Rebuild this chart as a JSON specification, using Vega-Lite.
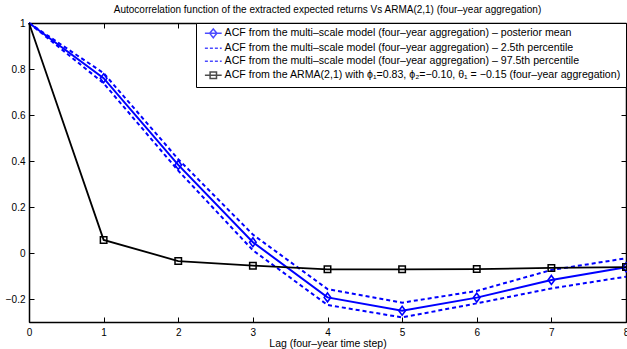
{
  "$schema": "https://vega.github.io/schema/vega-lite/v6.json",
  "width": 597,
  "height": 299,
  "autosize": {"type": "none"},
  "padding": {"left": 29, "top": 23, "right": 1, "bottom": 27},
  "background": "white",
  "config": {
    "font": "Liberation Sans",
    "view": {"stroke": "black", "strokeWidth": 1},
    "axis": {
      "grid": false,
      "domainColor": "black",
      "domainWidth": 1.5,
      "tickColor": "black",
      "tickWidth": 1,
      "tickSize": -5,
      "labelFont": "Liberation Sans",
      "labelFontSize": 10,
      "labelColor": "black",
      "titleFont": "Liberation Sans",
      "titleFontSize": 10.5,
      "titleFontWeight": "normal",
      "titleColor": "black"
    },
    "title": {"font": "Liberation Sans", "fontSize": 10, "fontWeight": "normal", "color": "black"}
  },
  "title": {"text": "Autocorrelation function of the extracted expected returns Vs ARMA(2,1) (four\u2013year aggregation)", "offset": 3, "anchor": "middle"},
  "data": {
    "values": [
      {"lag": 0, "series": "mean", "value": 1},
      {"lag": 1, "series": "mean", "value": 0.76},
      {"lag": 2, "series": "mean", "value": 0.383},
      {"lag": 3, "series": "mean", "value": 0.047},
      {"lag": 4, "series": "mean", "value": -0.193},
      {"lag": 5, "series": "mean", "value": -0.251},
      {"lag": 6, "series": "mean", "value": -0.194},
      {"lag": 7, "series": "mean", "value": -0.117},
      {"lag": 8, "series": "mean", "value": -0.062},
      {"lag": 0, "series": "p025", "value": 1},
      {"lag": 1, "series": "p025", "value": 0.738},
      {"lag": 2, "series": "p025", "value": 0.358},
      {"lag": 3, "series": "p025", "value": 0.012},
      {"lag": 4, "series": "p025", "value": -0.226},
      {"lag": 5, "series": "p025", "value": -0.28},
      {"lag": 6, "series": "p025", "value": -0.219},
      {"lag": 7, "series": "p025", "value": -0.154},
      {"lag": 8, "series": "p025", "value": -0.103},
      {"lag": 0, "series": "p975", "value": 1},
      {"lag": 1, "series": "p975", "value": 0.782},
      {"lag": 2, "series": "p975", "value": 0.408},
      {"lag": 3, "series": "p975", "value": 0.08},
      {"lag": 4, "series": "p975", "value": -0.157},
      {"lag": 5, "series": "p975", "value": -0.216},
      {"lag": 6, "series": "p975", "value": -0.165},
      {"lag": 7, "series": "p975", "value": -0.074},
      {"lag": 8, "series": "p975", "value": -0.023},
      {"lag": 0, "series": "arma", "value": 1},
      {"lag": 1, "series": "arma", "value": 0.057},
      {"lag": 2, "series": "arma", "value": -0.035},
      {"lag": 3, "series": "arma", "value": -0.055},
      {"lag": 4, "series": "arma", "value": -0.071},
      {"lag": 5, "series": "arma", "value": -0.071},
      {"lag": 6, "series": "arma", "value": -0.07},
      {"lag": 7, "series": "arma", "value": -0.065},
      {"lag": 8, "series": "arma", "value": -0.061}
    ]
  },
  "layer": [
    {
      "transform": [{"filter": "datum.series === 'p025' || datum.series === 'p975'"}],
      "mark": {"type": "line", "color": "#0000ff", "strokeWidth": 2, "strokeDash": [4, 3]},
      "encoding": {
        "x": {"field": "lag", "type": "quantitative", "scale": {"domain": [0, 8], "nice": false, "zero": false},
              "axis": {"orient": "bottom", "values": [0,1,2,3,4,5,6,7,8], "title": "Lag (four\u2013year time step)", "labelPadding": 10, "titlePadding": 1, "labelFlush": false}},
        "y": {"field": "value", "type": "quantitative", "scale": {"domain": [-0.3, 1], "nice": false, "zero": false},
              "axis": {"orient": "left", "values": [-0.2, 0, 0.2, 0.4, 0.6, 0.8, 1], "title": null, "labelPadding": 9, "labelFlush": false, "format": "~g"}},
        "detail": {"field": "series"}
      }
    },
    {
      "transform": [{"filter": "datum.series === 'mean'"}],
      "mark": {"type": "line", "color": "#0000ff", "strokeWidth": 2},
      "encoding": {
        "x": {"field": "lag", "type": "quantitative", "axis": {"orient": "top", "values": [0,1,2,3,4,5,6,7,8], "labels": false, "title": null}},
        "y": {"field": "value", "type": "quantitative", "axis": {"orient": "right", "values": [-0.2, 0, 0.2, 0.4, 0.6, 0.8, 1], "labels": false, "title": null}}
      }
    },
    {
      "transform": [{"filter": "datum.series === 'arma'"}],
      "mark": {"type": "line", "color": "black", "strokeWidth": 1.8},
      "encoding": {
        "x": {"field": "lag", "type": "quantitative", "axis": null},
        "y": {"field": "value", "type": "quantitative", "axis": null}
      }
    },
    {
      "transform": [{"filter": "datum.series === 'mean' && datum.lag > 0"}],
      "mark": {"type": "point", "shape": "M0,-1.15L0.85,0L0,1.15L-0.85,0Z", "filled": false, "color": "#0000ff", "strokeWidth": 1.6, "size": 60, "opacity": 1},
      "encoding": {
        "x": {"field": "lag", "type": "quantitative", "axis": null},
        "y": {"field": "value", "type": "quantitative", "axis": null}
      }
    },
    {
      "transform": [{"filter": "datum.series === 'arma' && datum.lag > 0"}],
      "mark": {"type": "point", "shape": "square", "filled": false, "color": "black", "strokeWidth": 1.5, "size": 42, "opacity": 1},
      "encoding": {
        "x": {"field": "lag", "type": "quantitative", "axis": null},
        "y": {"field": "value", "type": "quantitative", "axis": null}
      }
    },
    {
      "transform": [{"filter": "datum.lag < 0"}],
      "mark": {"type": "point", "filled": false, "strokeWidth": 1.8},
      "encoding": {
        "x": {"field": "lag", "type": "quantitative", "axis": null},
        "y": {"field": "value", "type": "quantitative", "axis": null},
        "shape": {
          "field": "series", "type": "nominal",
          "scale": {"domain": ["mean", "p025", "p975", "arma"],
                    "range": ["M-2.1,0H2.1M0,-1.1L0.9,0L0,1.1L-0.9,0Z", "M-2.1,0H2.1", "M-2.1,0H2.1", "M-2.1,0H2.1M-0.8,-0.8H0.8V0.8H-0.8Z"]},
          "legend": {
            "title": null,
            "orient": "top-right",
            "offset": 0,
            "strokeColor": "black",
            "fillColor": "white",
            "padding": 5,
            "symbolSize": 64,
            "symbolOffset": 7,
            "labelOffset": 6,
            "labelFontSize": 10.6,
            "labelFont": "Liberation Sans",
            "labelColor": "black",
            "labelLimit": 500,
            "rowPadding": 2,
            "labelExpr": "datum.value === 'mean' ? 'ACF from the multi\u2013scale model (four\u2013year aggregation) \u2013 posterior mean' : datum.value === 'p025' ? 'ACF from the multi\u2013scale model (four\u2013year aggregation) \u2013 2.5th percentile' : datum.value === 'p975' ? 'ACF from the multi\u2013scale model (four\u2013year aggregation) \u2013 97.5th percentile' : 'ACF from the ARMA(2,1) with \u03d5\u2081=0.83, \u03d5\u2082=\u22120.10, \u03b8\u2081 = \u22120.15 (four\u2013year aggregation)'"
          }
        },
        "color": {
          "field": "series", "type": "nominal",
          "scale": {"domain": ["mean", "p025", "p975", "arma"], "range": ["#0000ff", "#0000ff", "#0000ff", "black"]}
        },
        "strokeDash": {
          "field": "series", "type": "nominal",
          "scale": {"domain": ["mean", "p025", "p975", "arma"], "range": [[1, 0], [3, 2], [3, 2], [1, 0]]}
        }
      }
    }
  ]
}
